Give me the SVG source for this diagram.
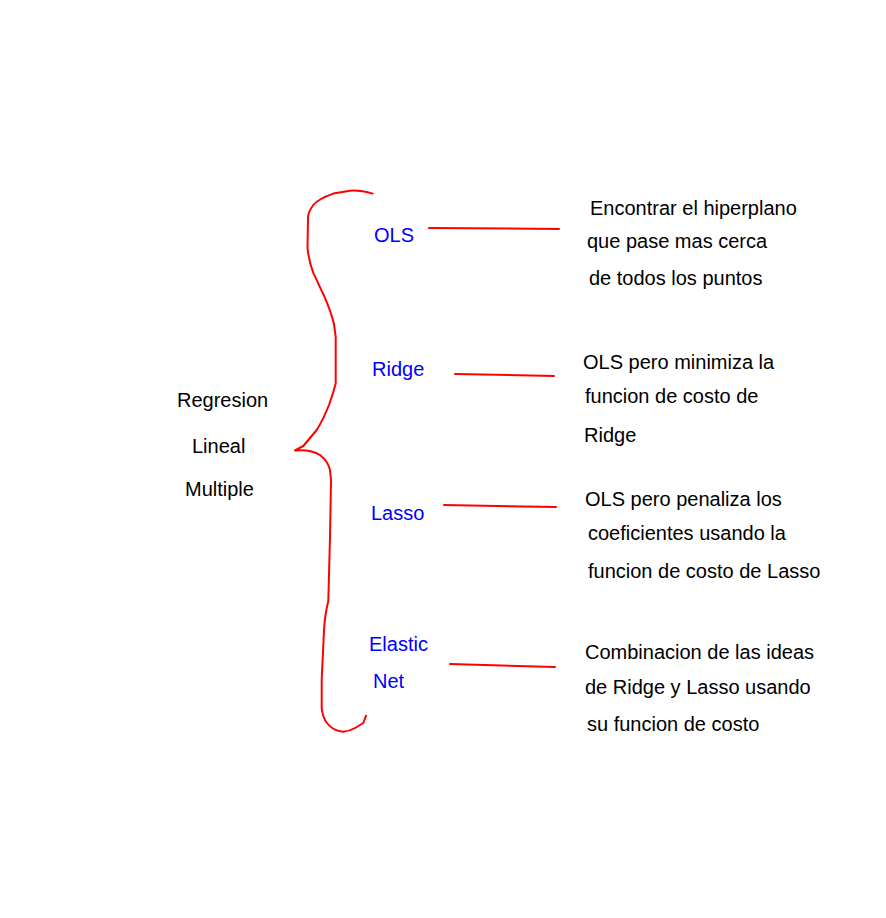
<svg xmlns="http://www.w3.org/2000/svg" width="886" height="918" viewBox="0 0 886 918">
<style>
text{font-family:"Liberation Sans",Arial,sans-serif;font-size:20px;fill:#000}
.b{fill:#0000ff}
.r{fill:none;stroke:#ff0000;stroke-width:2;stroke-linecap:round;stroke-linejoin:round}
</style>
<rect width="886" height="918" fill="#fff"/>
<g id="root">
<text x="177" y="407">Regresion</text>
<text x="192" y="453">Lineal</text>
<text x="185" y="496">Multiple</text>
</g>
<g id="brace">
<path class="r" d="M372.7,193.6 Q360,190 350,190.7 L333.3,193.6 Q318,199 313.3,205 Q308,212 308,218 L307.5,248 Q309,262 313.3,272.9 L325,297.9 Q331,312 334,324 L335.7,337 L335.7,383.6 Q333,394 329,405 Q323,420 316.7,430 L303.3,446 L295,450.4 Q311,449 320,455 Q328,461 330,470 L331,480 L330,537 L328.3,601 Q325,614 324,630 L321.7,680 L321.7,708.6 Q323,718 327,723 Q333,731 343,731.8 Q350,731 355,728 L363.3,723 L366,715.7"/>
</g>
<g id="ols">
<text class="b" x="374" y="242">OLS</text>
<text x="590" y="215">Encontrar el hiperplano</text>
<text x="587" y="248">que pase mas cerca</text>
<text x="589" y="285">de todos los puntos</text>
</g>
<g id="ridge">
<text class="b" x="372" y="376">Ridge</text>
<text x="583" y="369">OLS pero minimiza la</text>
<text x="585" y="403">funcion de costo de</text>
<text x="584" y="442">Ridge</text>
</g>
<g id="lasso">
<text class="b" x="371" y="520">Lasso</text>
<text x="585" y="506">OLS pero penaliza los</text>
<text x="588" y="540">coeficientes usando la</text>
<text x="588" y="578">funcion de costo de Lasso</text>
</g>
<g id="elastic">
<text class="b" x="369" y="651">Elastic</text>
<text class="b" x="373" y="688">Net</text>
<text x="585" y="659">Combinacion de las ideas</text>
<text x="585" y="694">de Ridge y Lasso usando</text>
<text x="587" y="731">su funcion de costo</text>
</g>
<g id="connectors">
<path class="r" d="M429,228 L559,229"/>
<path class="r" d="M455,374 L554,376"/>
<path class="r" d="M444,505 L556,507"/>
<path class="r" d="M450,664 L555,667"/>
</g>
</svg>
